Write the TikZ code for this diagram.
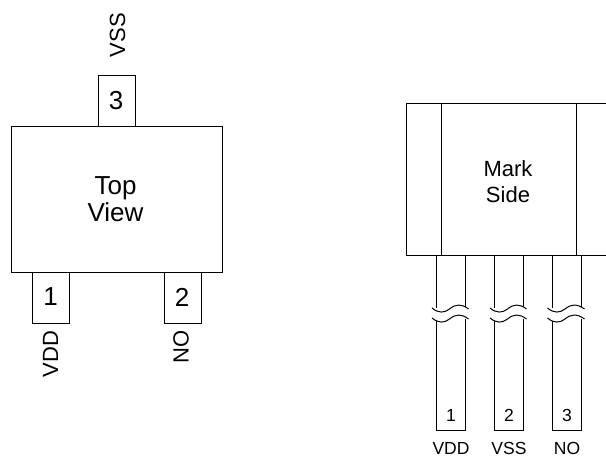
\documentclass[tikz,border=0pt]{standalone}
\usepackage{fontspec}
\setmainfont{Liberation Sans}
\begin{document}
\begin{tikzpicture}[x=1pt,y=-1pt,
  outline/.style={draw=black,line width=1pt,fill=white},
  pinbox/.style={outline,minimum width=37pt,minimum height=51pt,inner sep=0pt,anchor=north west},
  lead/.style={draw=black,line width=1pt},
  wave/.style={draw=black,line width=1pt,fill=white},
  big/.style={font=\fontsize{26}{28}\selectfont,align=center},
  mid/.style={font=\fontsize{22}{27}\selectfont,align=center},
  small/.style={font=\fontsize{17.5}{20}\selectfont},
  txt/.style={inner sep=0pt}]
\useasboundingbox (0,0) rectangle (606,457);
% top view
\node[pinbox] (p3) at (97.5,75.5) {};
\node[pinbox] (p1) at (32,272.5) {};
\node[pinbox] (p2) at (163.5,272.5) {};
\node[outline,minimum width=211pt,minimum height=146.5pt,inner sep=0pt,anchor=north west] (body) at (10.5,126) {};
\node[big,txt] (tv) at (115.5,199.5) {Top\\[-1pt]View};
\node[big,txt] (n3) at (116,100.5) {3};
\node[big,txt] (n1) at (50.5,297) {1};
\node[big,txt] (n2) at (182,297) {2};
\node[mid,txt,rotate=90] (vss) at (117.5,35) {VSS};
\node[mid,txt,rotate=90] (vdd) at (50.5,354) {VDD};
\node[mid,txt,rotate=90] (no) at (181,347) {NO};
% side view
\coordinate (tl) at (406.5,103.5);
\coordinate (br) at (606,255.5);
\draw[lead] (606,103.5) -- (tl) -- (406.5,255.5) -- (br);
\draw[lead] (441.5,103.5) -- (441.5,255.5);
\draw[lead] (576.5,103.5) -- (576.5,255.5);
\foreach \nm/\a/\b/\lab/\txt/\tx in {a/436.5/465/1/VDD/451,b/494.5/523/2/VSS/509,c/552/581/3/NO/567}{
  \draw[lead] (\a,255.5) -- (\a,430.5) -- (\b,430.5) -- (\b,255.5);
  \path[fill=white] (\a-4.5,308) .. controls (\a+2,313.5) and (\a+8,313) .. (\a+13,309) .. controls (\a+19,304) and (\a+25,303.5) .. (\b+3.5,309) -- (\b+3.5,319) .. controls (\a+25,313.5) and (\a+19,314) .. (\a+13,319) .. controls (\a+8,323) and (\a+2,323.5) .. (\a-4.5,318) -- cycle;
  \draw[wave] (\a-4.5,308) .. controls (\a+2,313.5) and (\a+8,313) .. (\a+13,309) .. controls (\a+19,304) and (\a+25,303.5) .. (\b+3.5,309);
  \draw[wave] (\a-4.5,318) .. controls (\a+2,323.5) and (\a+8,323) .. (\a+13,319) .. controls (\a+19,314) and (\a+25,313.5) .. (\b+3.5,319);
  \node[small,txt] (n\nm) at (\tx,415) {\lab};
  \node[small,txt] (l\nm) at (\tx,448.5) {\txt};
}
\node[mid,txt] (ms) at (508,182) {Mark\\[-1pt]Side};
\end{tikzpicture}
\end{document}
